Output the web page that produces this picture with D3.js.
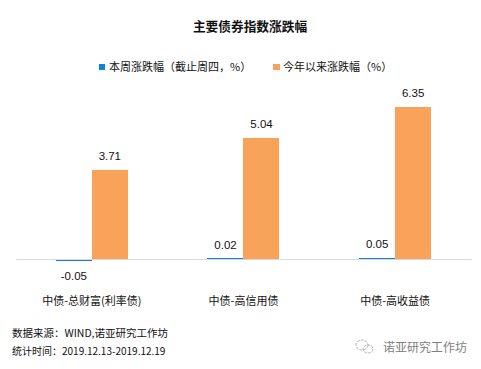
<!DOCTYPE html>
<html>
<head>
<meta charset="utf-8">
<script src="https://cdn.jsdelivr.net/npm/d3@7"></script>
<style>
body { margin: 0; background: #fff; }
text { font-family: "Noto Sans CJK SC", sans-serif; fill: #111; }
</style>
</head>
<body>
<div id="chart"></div>
<script>
var categories = ["中债-总财富(利率债)", "中债-高信用债", "中债-高收益债"];
var seriesNames = ["本周涨跌幅（截止周四，%）", "今年以来涨跌幅（%）"];
var weekly = [-0.05, 0.02, 0.05];
var ytd = [3.71, 5.04, 6.35];
var colors = ["#0a84e0", "#f8a25a"];
var notes = ["数据来源：WIND,诺亚研究工作坊", "统计时间：2019.12.13-2019.12.19"];

var svg = d3.select("#chart").append("svg")
	.attr("width", 481)
	.attr("height", 369);

var x = d3.scaleBand().domain(categories).range([16, 471]);
var inner = d3.scaleBand().domain([0, 1]).range([-36, 36]);
var y = d3.scaleLinear().domain([0, 6.35]).range([259, 107]);

svg.append("text")
	.attr("x", 250).attr("y", 31)
	.attr("text-anchor", "middle")
	.attr("font-size", "12.7px")
	.attr("font-weight", "bold")
	.text("主要债券指数涨跌幅");

// legend
var legendX = [99, 273];
seriesNames.forEach((name, i) => {
	svg.append("rect")
		.attr("x", legendX[i]).attr("y", 64)
		.attr("width", i ? 7 : 6).attr("height", 6)
		.attr("fill", colors[i]);
	svg.append("text")
		.attr("x", legendX[i] + 10).attr("y", 71)
		.attr("font-size", "11px")
		.text(name);
});

// bars, snapped to whole pixels so the thin weekly bars stay crisp
[weekly, ytd].forEach((values, s) => {
	var center = d => x(categories[d]) + x.bandwidth() / 2;
	var barHeight = d => Math.max(Math.round(Math.abs(y(d) - y(0))), 1);
	svg.selectAll(".bar" + s)
		.data(values)
		.enter()
		.append("rect")
		.attr("x", (d, i) => Math.ceil(center(i) + inner(s) - 0.5))
		.attr("y", d => d < 0 ? y(0) + 1 : y(0) - barHeight(d))
		.attr("width", inner.bandwidth())
		.attr("height", barHeight)
		.attr("fill", colors[s]);

	svg.selectAll(".label" + s)
		.data(values)
		.enter()
		.append("text")
		.attr("x", (d, i) => center(i) + inner(s) + inner.bandwidth() / 2)
		.attr("y", d => d < 0 ? y(d) + 20 : y(d) - 10)
		.attr("text-anchor", "middle")
		.style("font-family", "'Liberation Sans', sans-serif")
		.attr("font-size", "11.5px")
		.text(d => d.toFixed(2));
});

// axis
var xAxis = d3.axisBottom(x).tickSize(0).tickPadding(38);
var axisG = svg.append("g")
	.attr("transform", `translate(0, ${y(0)})`)
	.call(xAxis);
axisG.select(".domain").attr("stroke", "#d9d9d9").attr("stroke-width", 1);
axisG.selectAll("text")
	.attr("font-size", "11px")
	.style("font-family", "'Noto Sans CJK SC', sans-serif");

// footnotes
notes.forEach((t, i) => {
	svg.append("text")
		.attr("x", 12).attr("y", 337 + i * 18)
		.attr("font-size", i ? "10px" : "10.5px")
		.text(t);
});

// watermark
var mark = svg.append("g").attr("fill", "none").attr("stroke", "#b5b5b5").attr("stroke-width", 1);
mark.append("ellipse").attr("cx", 362).attr("cy", 345).attr("rx", 6).attr("ry", 5).attr("stroke-dasharray", "3 1");
mark.append("ellipse").attr("cx", 368).attr("cy", 349).attr("rx", 5).attr("ry", 4).attr("stroke-dasharray", "3 1");
svg.append("text")
	.attr("x", 383).attr("y", 352)
	.attr("font-size", "12px")
	.style("fill", "#808080")
	.text("诺亚研究工作坊");
</script>
</body>
</html>
